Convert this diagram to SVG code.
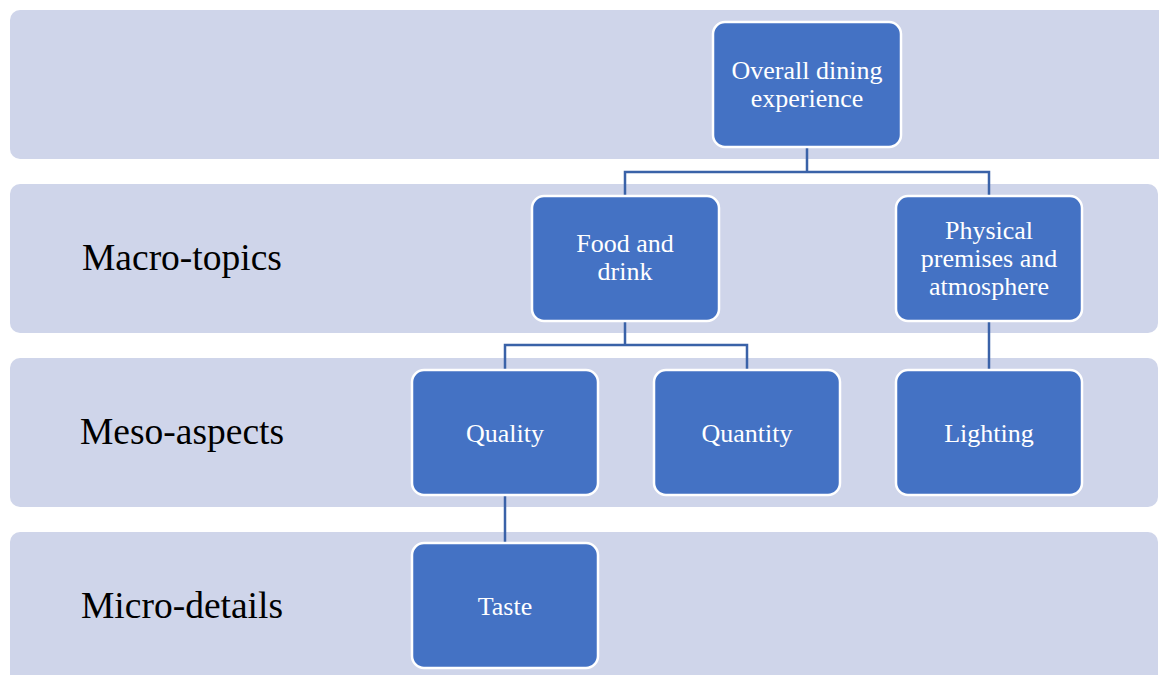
<svg xmlns="http://www.w3.org/2000/svg" width="1159" height="675" viewBox="0 0 1159 675">
<style>
.band{fill:#CFD5EA;}
.node rect{fill:#4472C4;stroke:#FFFFFF;stroke-width:2.5;}
.node text{fill:#FFFFFF;font-family:"Liberation Serif","Times New Roman",serif;font-size:26px;text-anchor:middle;}
.lbl{fill:#000000;font-family:"Liberation Serif","Times New Roman",serif;font-size:37.5px;}
.conn{fill:none;stroke:#3A62A8;stroke-width:2.5;}
</style>
<rect width="1159" height="675" fill="#FFFFFF"/>
<g id="bands">
<rect class="band" x="10" y="10" width="1160" height="149" rx="10"/>
<rect class="band" x="10" y="184" width="1148" height="149" rx="10"/>
<rect class="band" x="10" y="358" width="1148" height="149" rx="10"/>
<rect class="band" x="10" y="532" width="1148" height="160" rx="10"/>
</g>
<g id="band-labels">
<text class="lbl" x="82" y="270">Macro-topics</text>
<text class="lbl" x="80" y="444">Meso-aspects</text>
<text class="lbl" x="81" y="618">Micro-details</text>
</g>
<g id="connectors">
<path class="conn" d="M807,147 V172 M625,196 V172 H989 V196"/>
<path class="conn" d="M625,321 V345 M505,370 V345 H747 V370"/>
<path class="conn" d="M989,321 V370"/>
<path class="conn" d="M505,495 V543"/>
</g>
<g id="overall" class="node">
<rect x="713" y="22" width="188" height="125" rx="12"/>
<text x="807" y="79">Overall dining</text>
<text x="807" y="107">experience</text>
</g>
<g id="food" class="node">
<rect x="532" y="196" width="187" height="125" rx="12"/>
<text x="625" y="252">Food and</text>
<text x="625" y="280">drink</text>
</g>
<g id="physical" class="node">
<rect x="896" y="196" width="186" height="125" rx="12"/>
<text x="989" y="239">Physical</text>
<text x="989" y="267">premises and</text>
<text x="989" y="295">atmosphere</text>
</g>
<g id="quality" class="node">
<rect x="412" y="370" width="186" height="125" rx="12"/>
<text x="505" y="442">Quality</text>
</g>
<g id="quantity" class="node">
<rect x="654" y="370" width="186" height="125" rx="12"/>
<text x="747" y="442">Quantity</text>
</g>
<g id="lighting" class="node">
<rect x="896" y="370" width="186" height="125" rx="12"/>
<text x="989" y="442">Lighting</text>
</g>
<g id="taste" class="node">
<rect x="412" y="543" width="186" height="125" rx="12"/>
<text x="505" y="615">Taste</text>
</g>
</svg>
